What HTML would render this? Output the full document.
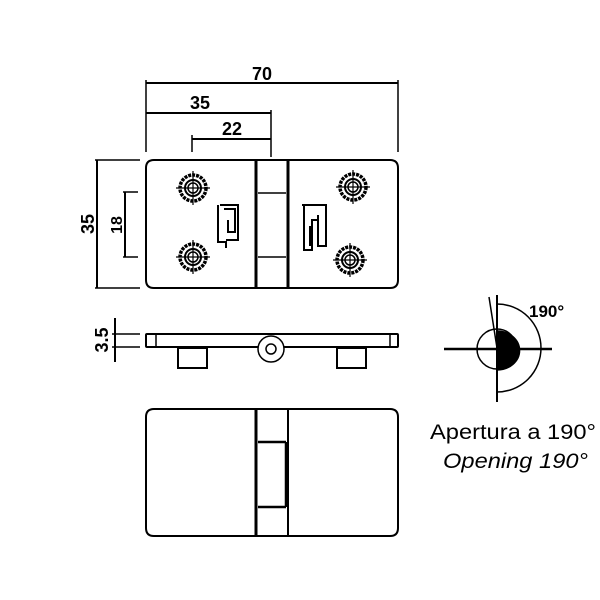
<!DOCTYPE html>
<html><head><style>body{margin:0;background:#fff}svg{display:block}</style></head><body>
<svg width="600" height="600" viewBox="0 0 600 600" xmlns="http://www.w3.org/2000/svg" font-family="Liberation Sans, sans-serif">
<defs>
<g id="s" stroke="#000" fill="none"><circle r="13" stroke-width="3.5" stroke-dasharray="3 1"/><circle r="8" stroke-width="2"/><circle r="5" stroke-width="1.5"/><line x1="-17" y1="0" x2="17" y2="0" stroke-width="1.2"/><line x1="0" y1="-17" x2="0" y2="17" stroke-width="1.2"/></g>
</defs>
<g stroke="#000" fill="none" stroke-width="1.5">
<line x1="146" y1="80" x2="146" y2="152"/><line x1="398" y1="80" x2="398" y2="152"/>
<line x1="146" y1="83" x2="398" y2="83" stroke-width="2"/>
<line x1="146" y1="113" x2="271" y2="113" stroke-width="2"/><line x1="271" y1="110" x2="271" y2="157"/>
<line x1="192" y1="139" x2="271" y2="139" stroke-width="2"/><line x1="192" y1="135" x2="192" y2="152"/>
<line x1="97" y1="160" x2="97" y2="288" stroke-width="2"/><line x1="95" y1="160" x2="140" y2="160"/><line x1="95" y1="288" x2="140" y2="288"/>
<line x1="125" y1="192" x2="125" y2="257" stroke-width="2"/><line x1="123" y1="192" x2="138" y2="192"/><line x1="123" y1="257" x2="138" y2="257"/>
<path d="M154 160 H256 V288 H154 Q146 288 146 280 V168 Q146 160 154 160Z" stroke-width="2"/>
<path d="M288 160 H390 Q398 160 398 168 V280 Q398 288 390 288 H288Z" stroke-width="2"/>
<line x1="256" y1="160" x2="256" y2="288" stroke-width="3"/>
<line x1="288" y1="160" x2="288" y2="288" stroke-width="3"/>
<line x1="256" y1="160" x2="288" y2="160" stroke-width="2"/><line x1="256" y1="288" x2="288" y2="288" stroke-width="2"/>
<line x1="258" y1="193" x2="286" y2="193"/><line x1="258" y1="257" x2="286" y2="257"/>
<path d="M218 205 V242 H226 V248 M220 205 H238 V240 H226 M224 209 H235 V232 H228 V220" stroke-width="2"/>
<path d="M302 205 H326 V246 H318 V215 M304 205 V250 H312 V220 H318 M310 226 V246" stroke-width="2"/>
<line x1="112" y1="334" x2="140" y2="334"/><line x1="112" y1="347" x2="140" y2="347"/>
<line x1="115" y1="318" x2="115" y2="362" stroke-width="2"/>
<rect x="146" y="334" width="252" height="13" stroke-width="2" rx="1"/>
<line x1="156" y1="334" x2="156" y2="347"/><line x1="390" y1="334" x2="390" y2="347"/>
<circle cx="271" cy="349" r="13" fill="#fff" stroke-width="1.5"/><circle cx="271" cy="349" r="5"/>
<rect x="178" y="348" width="29" height="20" stroke-width="2"/><rect x="337" y="348" width="29" height="20" stroke-width="2"/>
<path d="M154 409 H256 V536 H154 Q146 536 146 528 V417 Q146 409 154 409Z" stroke-width="2"/>
<path d="M288 409 H390 Q398 409 398 417 V528 Q398 536 390 536 H288Z" stroke-width="2"/>
<line x1="256" y1="409" x2="256" y2="536" stroke-width="3"/>
<line x1="288" y1="409" x2="288" y2="536" stroke-width="2"/>
<line x1="256" y1="409" x2="288" y2="409" stroke-width="2"/><line x1="256" y1="536" x2="288" y2="536" stroke-width="2"/>
<line x1="258" y1="442" x2="286" y2="442" stroke-width="2.5"/><line x1="258" y1="507" x2="286" y2="507" stroke-width="2.5"/>
<line x1="286" y1="442" x2="286" y2="507" stroke-width="2.5"/>
<line x1="444" y1="349" x2="552" y2="349" stroke-width="2.5"/>
<line x1="497" y1="295" x2="497" y2="402" stroke-width="2"/>
<line x1="489" y1="297" x2="497" y2="348"/>
<circle cx="497" cy="349" r="20"/>
<path d="M497 331 A22 19 0 0 1 497 370Z" fill="#000"/>
<path d="M497 304 A44 44 0 0 1 497 392"/>
</g>
<use href="#s" x="193" y="188"/><use href="#s" x="193" y="257"/><use href="#s" x="353" y="187"/><use href="#s" x="350" y="260"/>
<g font-size="18" fill="#000" font-weight="bold">
<text x="262" y="80" text-anchor="middle">70</text>
<text x="200" y="109" text-anchor="middle">35</text>
<text x="232" y="135" text-anchor="middle">22</text>
<text transform="translate(94,224) rotate(-90)" text-anchor="middle">35</text>
<text transform="translate(122,225) rotate(-90)" text-anchor="middle" font-size="16">18</text>
<text transform="translate(108,340) rotate(-90)" text-anchor="middle">3.5</text>
<text x="529" y="317" font-size="17">190°</text>
</g>
<g font-size="21" fill="#000">
<text x="430" y="439" textLength="166" lengthAdjust="spacingAndGlyphs">Apertura a 190°</text>
<text x="443" y="468" font-style="italic" textLength="145" lengthAdjust="spacingAndGlyphs">Opening 190°</text>
</g>
</svg>
</body></html>
